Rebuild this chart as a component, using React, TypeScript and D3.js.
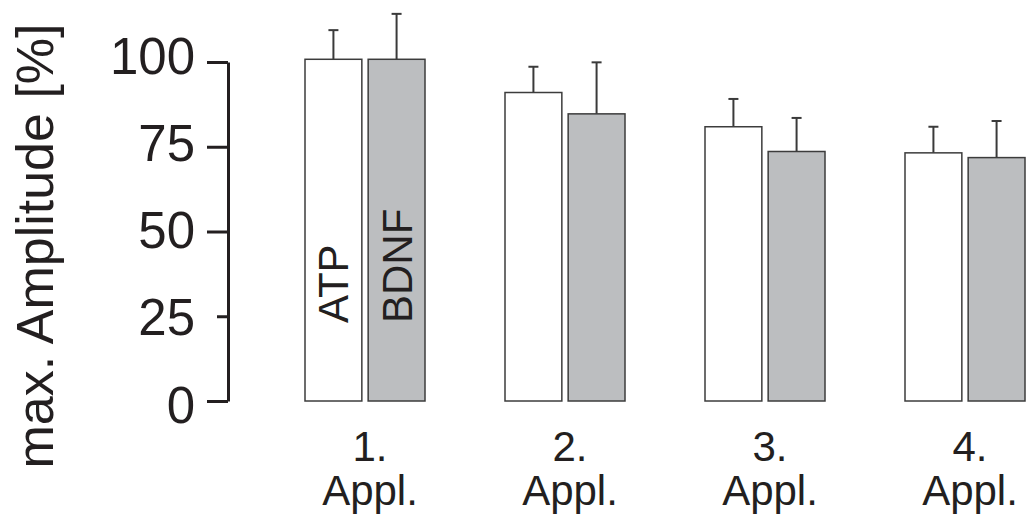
import React, { useEffect, useRef } from 'react';
import * as d3 from 'd3';

// values (percent of first application)
const applications = ['1.', '2.', '3.', '4.'];
const seriesNames = ['ATP', 'BDNF'];
const atpMean = [100.8, 91.0, 80.9, 73.2];
const atpErr = [8.6, 7.6, 8.2, 7.7];
const bdnfMean = [100.8, 84.7, 73.6, 71.8];
const bdnfErr = [13.4, 15.2, 9.9, 10.8];
const yTicks = [0, 25, 50, 75, 100];

const INK = '#231f20';
const FONT = '"Liberation Sans", Arial, sans-serif';

const App = () => {
  const svgRef = useRef<SVGSVGElement>(null);

  useEffect(() => {
    const svg = d3.select(svgRef.current);
    svg.selectAll('*').remove();

    const rows = applications.map((a, i) => ({
      app: a,
      bars: [
        { name: 'ATP', mean: atpMean[i], err: atpErr[i], fill: '#ffffff' },
        { name: 'BDNF', mean: bdnfMean[i], err: bdnfErr[i], fill: '#bcbec0' },
      ],
    }));

    const y = d3.scaleLinear().domain([0, 100]).range([401, 62]);

    const x0 = d3.scaleBand()
      .domain(applications)
      .range([265, 1065])
      .paddingInner(0.4)
      .paddingOuter(0.2);

    const x1 = d3.scaleBand()
      .domain(seriesNames)
      .range([0, x0.bandwidth()])
      .paddingInner(0.1);

    // Y axis
    const axis = svg.append('g')
      .attr('transform', 'translate(228,0)')
      .call(
        d3.axisLeft(y)
          .tickValues(yTicks)
          .tickSizeInner(21)
          .tickSizeOuter(0)
          .tickPadding(12)
          .tickFormat(d3.format('d'))
      );
    axis.select('.domain').attr('stroke', INK).attr('stroke-width', 3);
    axis.selectAll('.tick line')
      .attr('stroke', INK)
      .attr('stroke-width', 3)
      .attr('x2', (d: any) => (d === 25 ? -11 : -21)); // the 25 tick is short in the original
    // labels drift slightly upward relative to their ticks in the original
    axis.selectAll('.tick text')
      .attr('fill', INK)
      .attr('dy', (d: any) => 18 + 3 - 10 * d / 100)
      .style('font-family', FONT)
      .style('font-size', '51px');

    // y label
    svg.append('text')
      .attr('transform', 'translate(53,246) rotate(-90)')
      .attr('text-anchor', 'middle')
      .attr('fill', INK)
      .style('font-family', FONT)
      .style('font-size', '52px')
      .text('max. Amplitude [%]');

    const groups = svg.selectAll('.grp')
      .data(rows)
      .enter()
      .append('g')
      .attr('class', 'grp')
      .attr('transform', d => `translate(${x0(d.app)},0)`);

    const bar = groups.selectAll('.bar')
      .data(d => d.bars)
      .enter()
      .append('g')
      .attr('class', 'bar');

    // error bars (upper only)
    bar.append('line')
      .attr('x1', d => x1(d.name)! + x1.bandwidth() / 2)
      .attr('x2', d => x1(d.name)! + x1.bandwidth() / 2)
      .attr('y1', d => y(d.mean))
      .attr('y2', d => y(d.mean + d.err))
      .attr('stroke', '#3a3a3a')
      .attr('stroke-width', 2);
    bar.append('line')
      .attr('x1', d => x1(d.name)! + x1.bandwidth() / 2 - 5)
      .attr('x2', d => x1(d.name)! + x1.bandwidth() / 2 + 5)
      .attr('y1', d => y(d.mean + d.err))
      .attr('y2', d => y(d.mean + d.err))
      .attr('stroke', '#3a3a3a')
      .attr('stroke-width', 2);

    bar.append('rect')
      .attr('x', d => x1(d.name)!)
      .attr('y', d => y(d.mean))
      .attr('width', x1.bandwidth())
      .attr('height', d => y(0) - y(d.mean))
      .attr('fill', d => d.fill)
      .attr('stroke', '#3c3c3c')
      .attr('stroke-width', 1.5);

    // series names written inside the first pair of bars
    groups.filter((d, i) => i === 0)
      .selectAll('.lbl')
      .data(d => d.bars)
      .enter()
      .append('text')
      .attr('transform', d =>
        `translate(${x1(d.name)! + x1.bandwidth() / 2 + 15},323) rotate(-90)`)
      .attr('fill', INK)
      .style('font-family', FONT)
      .style('font-size', '42px')
      .text(d => d.name);

    // category labels
    const cat = svg.append('g')
      .selectAll('text')
      .data(applications)
      .enter()
      .append('text')
      .attr('text-anchor', 'middle')
      .attr('fill', INK)
      .style('font-family', FONT)
      .style('font-size', '42px');
    cat.append('tspan')
      .attr('x', d => x0(d)! + x0.bandwidth() / 2 + 5)
      .attr('y', 461)
      .text(d => d);
    cat.append('tspan')
      .attr('x', d => x0(d)! + x0.bandwidth() / 2 + 5)
      .attr('y', 505)
      .text('Appl.');
  }, []);

  return (
    <svg
      ref={svgRef}
      width={1032}
      height={515}
      style={{ position: 'absolute', left: 0, top: 0, background: '#fff' }}
    />
  );
};

export default App;
